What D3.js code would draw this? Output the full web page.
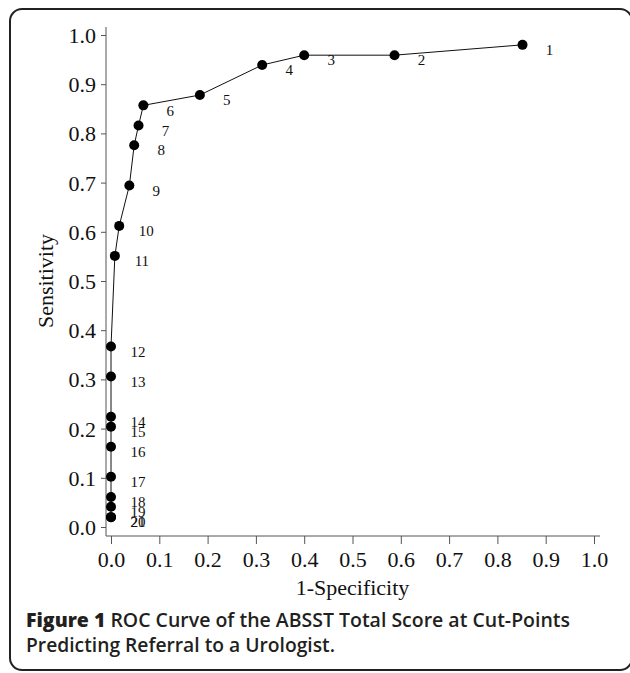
<!DOCTYPE html>
<html>
<head>
<meta charset="utf-8">
<script src="https://cdn.jsdelivr.net/npm/d3@7"></script>
<style>
  body { margin: 0; background: #fff; }
  svg { display: block; }
  .tick text { font-family: "Liberation Serif", "Times New Roman", serif; }
</style>
</head>
<body>
<svg id="chart"></svg>
<script>
// cut-point numbers, false positive rate (1-specificity), sensitivity
// (cut-points 20 and 21 sit on the same spot, their labels overlap in the figure)
var cutPoints = [1, 2, 3, 4, 5, 6, 7, 8, 9, 10, 11, 12, 13, 14, 15, 16, 17, 18, 19, 20, 21];
var fpr = [0.852, 0.587, 0.400, 0.313, 0.184, 0.067, 0.057, 0.048, 0.038, 0.017,
           0.008, 0, 0, 0, 0, 0, 0, 0, 0, 0, 0];
var sens = [0.980, 0.959, 0.959, 0.939, 0.878, 0.857, 0.816, 0.776, 0.694, 0.612,
            0.551, 0.367, 0.306, 0.224, 0.204, 0.163, 0.102, 0.061, 0.041, 0.020, 0.020];
var tickValues = [0, 0.1, 0.2, 0.3, 0.4, 0.5, 0.6, 0.7, 0.8, 0.9, 1.0];
var xTitle = "1-Specificity";
var yTitle = "Sensitivity";
var captionBold = "Figure 1";
var captionLine1 = " ROC Curve of the ABSST Total Score at Cut-Points";
var captionLine2 = "Predicting Referral to a Urologist.";

var width = 630, height = 673;
var serif = '"Liberation Serif", "Times New Roman", serif';
var svg = d3.select("#chart").attr("width", width).attr("height", height);

// outer frame
svg.append("rect")
  .attr("x", 10).attr("y", 9)
  .attr("width", 622).attr("height", 661)
  .attr("rx", 12)
  .attr("fill", "none")
  .attr("stroke", "#222")
  .attr("stroke-width", 2);

var x = d3.scaleLinear().domain([0, 1]).range([111, 594]);
var y = d3.scaleLinear().domain([0, 1]).range([527, 35]);

var axisY = 536, axisX = 106;

// x axis
var gx = svg.append("g")
  .attr("transform", "translate(0," + axisY + ")")
  .call(d3.axisBottom(x).tickValues(tickValues).tickFormat(d3.format(".1f"))
    .tickSize(8).tickPadding(4));
gx.select(".domain").remove();
gx.selectAll(".tick line").attr("stroke", "#555");
gx.selectAll(".tick text")
  .attr("font-size", 22).attr("fill", "#111")
  .attr("y", 31).attr("dy", 0);

// y axis
var gy = svg.append("g")
  .attr("transform", "translate(" + axisX + ",0)")
  .call(d3.axisLeft(y).tickValues(tickValues).tickFormat(d3.format(".1f"))
    .tickSize(5).tickPadding(5));
gy.select(".domain").remove();
gy.selectAll(".tick line").attr("stroke", "#555");
gy.selectAll(".tick text")
  .attr("font-size", 22).attr("fill", "#111")
  .attr("dy", "0.34em");

// axis lines
svg.append("line")
  .attr("x1", axisX).attr("x2", x(1) + 6)
  .attr("y1", axisY).attr("y2", axisY)
  .attr("stroke", "#555");
svg.append("line")
  .attr("x1", axisX).attr("x2", axisX)
  .attr("y1", y(1) - 8).attr("y2", axisY)
  .attr("stroke", "#555");

// axis titles
svg.append("text")
  .attr("x", (x(0) + x(1)) / 2).attr("y", 595)
  .attr("text-anchor", "middle")
  .attr("font-family", serif).attr("font-size", 22).attr("fill", "#111")
  .text(xTitle);
svg.append("text")
  .attr("transform", "translate(53," + 281 + ") rotate(-90)")
  .attr("text-anchor", "middle")
  .attr("font-family", serif).attr("font-size", 22).attr("fill", "#111")
  .text(yTitle);

var points = cutPoints.map(function(c, i) {
  return { cut: c, fpr: fpr[i], sens: sens[i] };
});

var line = d3.line()
  .x(function(d) { return x(d.fpr); })
  .y(function(d) { return y(d.sens); });

svg.append("path")
  .datum(points)
  .attr("d", line)
  .attr("fill", "none")
  .attr("stroke", "#111")
  .attr("stroke-width", 1);

svg.selectAll("circle.pt")
  .data(points)
  .enter()
  .append("circle")
  .attr("class", "pt")
  .attr("cx", function(d) { return x(d.fpr); })
  .attr("cy", function(d) { return y(d.sens); })
  .attr("r", 5)
  .attr("fill", "#000");

svg.selectAll("text.lbl")
  .data(points)
  .enter()
  .append("text")
  .attr("class", "lbl")
  .attr("x", function(d) { return x(d.fpr) + 27; })
  .attr("y", function(d) { return y(d.sens) + 5; })
  .attr("dy", "0.35em")
  .attr("text-anchor", "middle")
  .attr("font-family", serif).attr("font-size", 15).attr("fill", "#111")
  .text(function(d) { return d.cut; });

// caption
var sans = '"Open Sans", "Noto Sans", sans-serif';
var cap1 = svg.append("text")
  .attr("x", 26).attr("y", 627)
  .attr("font-family", sans).attr("font-size", 19).attr("fill", "#231f20")
  .attr("textLength", 544).attr("lengthAdjust", "spacingAndGlyphs");
cap1.append("tspan").attr("font-weight", 800).text(captionBold);
cap1.append("tspan").attr("font-weight", 600).text(captionLine1);
svg.append("text")
  .attr("x", 26).attr("y", 652)
  .attr("font-family", sans).attr("font-size", 19).attr("fill", "#231f20")
  .attr("font-weight", 600)
  .attr("textLength", 309).attr("lengthAdjust", "spacingAndGlyphs")
  .text(captionLine2);
</script>
</body>
</html>
